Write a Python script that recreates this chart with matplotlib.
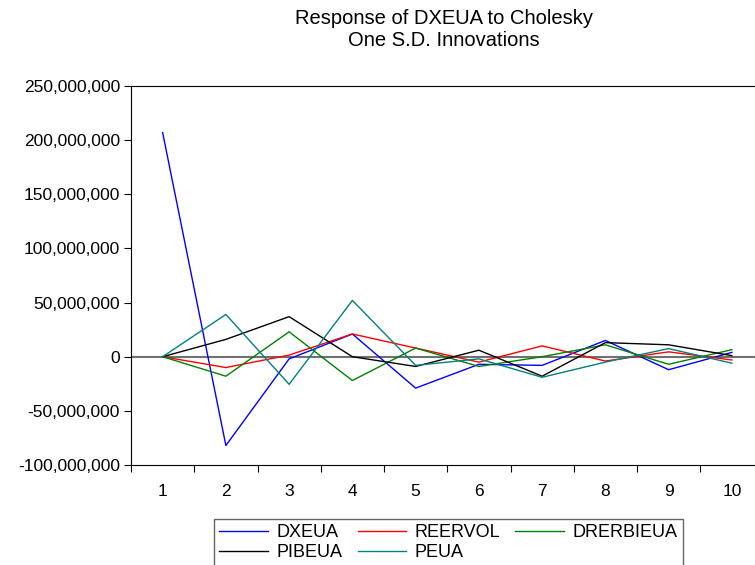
import numpy as np
import matplotlib

matplotlib.use("Agg")
import matplotlib.pyplot as plt
from matplotlib.ticker import FixedLocator, StrMethodFormatter

plt.rcParams["font.family"] = ["Liberation Sans", "DejaVu Sans"]
plt.rcParams["axes.unicode_minus"] = False

# 期数与各冲击响应（单位：原值）
periods = np.arange(1, 11)
dxeua = [207e6, -82e6, -2e6, 21e6, -29e6, -7e6, -8e6, 15e6, -12e6, 4e6]
reervol = [0, -10e6, 1.5e6, 21e6, 8e6, -5e6, 10e6, -4e6, 4.5e6, -3e6]
drerbieua = [0, -18e6, 23e6, -22e6, 8e6, -9e6, 0, 11e6, -7e6, 6.5e6]
pibeua = [0, 16e6, 37e6, 0, -9e6, 6e6, -18e6, 13e6, 11e6, 1e6]
peua = [0, 39e6, -25.5e6, 52e6, -8e6, -2e6, -19e6, -5e6, 7.5e6, -6e6]

series = [
    ("DXEUA", dxeua, "#0000ff"),
    ("REERVOL", reervol, "#ff0000"),
    ("DRERBIEUA", drerbieua, "#008000"),
    ("PIBEUA", pibeua, "#000000"),
    ("PEUA", peua, "#008080"),
]

W, H = 755, 565
fig = plt.figure(figsize=(W / 100, H / 100), dpi=100)
ax = fig.add_axes([131 / W, (H - 465) / H, (763.5 - 131) / W, (465 - 86) / H])

# 零线
ax.axhline(0, color="#707070", linewidth=1.5, zorder=1)

lines = {}
for name, vals, col in series:
    lines[name], = ax.plot(periods, vals, color=col, linewidth=1.0, label=name, zorder=2)

ax.set_xlim(0.5, 10.5)
ax.set_ylim(-100e6, 250e6)
ax.set_yticks(np.arange(-100e6, 250e6 + 1, 50e6))
ax.yaxis.set_major_formatter(StrMethodFormatter("{x:,.0f}"))
ax.set_xticks(periods)
ax.xaxis.set_minor_locator(FixedLocator(np.arange(0.5, 10.6, 1.0)))
ax.tick_params(axis="x", which="major", length=0, labelsize=12.5, pad=14)
ax.tick_params(axis="x", which="minor", length=5, width=0.8, direction="out")
ax.tick_params(axis="y", length=5, width=0.8, direction="out", labelsize=12.5, pad=3)
for s in ax.spines.values():
    s.set_linewidth(0.8)

fig.text(444 / W, 1 - 9 / H, "Response of DXEUA to Cholesky\nOne S.D. Innovations",
         ha="center", va="top", fontsize=14.5, linespacing=1.2)

# 图例按行排列：列优先填充，所以重新排序
order = ["DXEUA", "PIBEUA", "REERVOL", "PEUA", "DRERBIEUA"]
fig.legend([lines[n] for n in order], order,
           loc="upper left", bbox_to_anchor=(214 / W, 1 - 519 / H), ncol=3,
           fontsize=13, frameon=True, fancybox=False, edgecolor="#404040",
           handlelength=2.7, columnspacing=0.85, handletextpad=0.45,
           labelspacing=0.15, borderpad=0.3, borderaxespad=0)

fig.savefig("out.png", dpi=100)
plt.close(fig)
